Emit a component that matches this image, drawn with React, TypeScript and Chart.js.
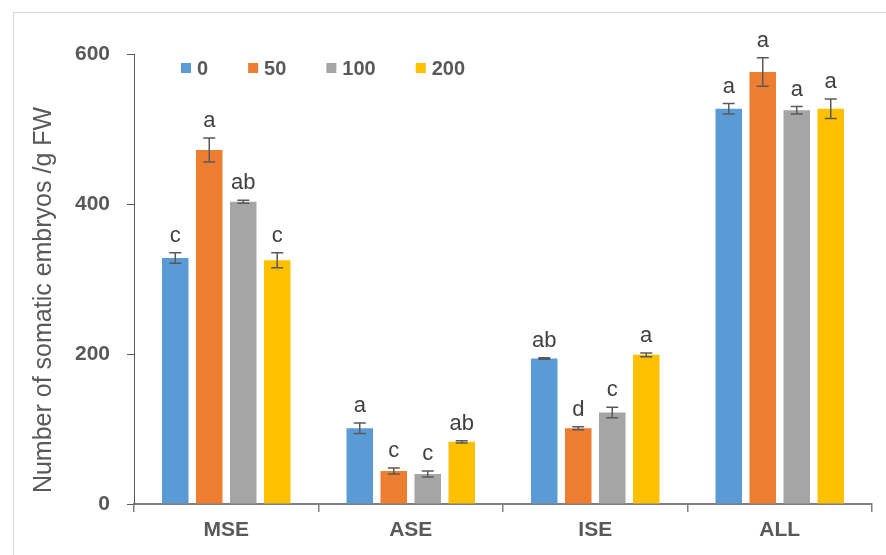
import React, { useEffect, useRef } from "react";
import { Chart, registerables } from "chart.js";

Chart.register(...registerables);

// Embryo type groups and treatment levels
const categories = ["MSE", "ASE", "ISE", "ALL"];
const seriesNames = ["0", "50", "100", "200"];
const seriesColors = ["#5B9BD5", "#ED7D31", "#A5A5A5", "#FFC000"];

// Mean number of somatic embryos per g FW
const values0 = [328, 101, 194, 527];
const values50 = [472, 44, 101, 576];
const values100 = [403, 40, 122, 525];
const values200 = [325, 83, 199, 527];

// Standard errors
const errors0 = [7, 7, 1, 7];
const errors50 = [16, 4, 2, 19];
const errors100 = [2, 4, 7, 5];
const errors200 = [10, 1.5, 2.5, 13];

// Significance letters
const letters0 = ["c", "a", "ab", "a"];
const letters50 = ["a", "c", "d", "a"];
const letters100 = ["ab", "c", "c", "a"];
const letters200 = ["c", "ab", "a", "a"];

const yTicks = [0, 200, 400, 600];
const yTitle = "Number of somatic embryos /g FW";

const FONT = "'Liberation Sans', Arial, sans-serif";
const TEXT = "#595959";

const allValues = [values0, values50, values100, values200];
const allErrors = [errors0, errors50, errors100, errors200];
const allLetters = [letters0, letters50, letters100, letters200];

const errorBarPlugin = {
  id: "errorBars",
  afterDatasetsDraw(chart: any) {
    const { ctx } = chart;
    const yScale = chart.scales.y;
    ctx.save();
    chart.data.datasets.forEach((ds: any, i: number) => {
      const meta = chart.getDatasetMeta(i);
      meta.data.forEach((bar: any, j: number) => {
        const v = allValues[i][j];
        const e = allErrors[i][j];
        const x = bar.x;
        const top = yScale.getPixelForValue(v + e);
        const bot = yScale.getPixelForValue(v - e);
        ctx.strokeStyle = "#595959";
        ctx.lineWidth = 1.5;
        ctx.beginPath();
        ctx.moveTo(x, top);
        ctx.lineTo(x, bot);
        ctx.moveTo(x - 6, top);
        ctx.lineTo(x + 6, top);
        ctx.moveTo(x - 6, bot);
        ctx.lineTo(x + 6, bot);
        ctx.stroke();

        ctx.fillStyle = "#404040";
        ctx.font = `22px ${FONT}`;
        ctx.textAlign = "center";
        ctx.textBaseline = "alphabetic";
        ctx.fillText(allLetters[i][j], x, top - 11);
      });
    });
    ctx.restore();
  },
};

const legendAndTitlePlugin = {
  id: "legendAndTitle",
  afterDraw(chart: any) {
    const { ctx } = chart;
    ctx.save();
    // legend row inside the plot area
    ctx.font = `bold 20px ${FONT}`;
    ctx.textBaseline = "middle";
    ctx.textAlign = "left";
    let x = 181;
    const cy = 68;
    seriesNames.forEach((name, i) => {
      ctx.fillStyle = seriesColors[i];
      ctx.fillRect(x, cy - 5, 10, 10);
      ctx.fillStyle = TEXT;
      ctx.fillText(name, x + 16, cy + 1);
      x += 16 + ctx.measureText(name).width + 40;
    });
    // rotated y-axis title
    ctx.translate(44, 300);
    ctx.rotate(-Math.PI / 2);
    ctx.font = `25px ${FONT}`;
    ctx.fillStyle = TEXT;
    ctx.textAlign = "center";
    ctx.textBaseline = "middle";
    ctx.fillText(yTitle, 0, 0);
    ctx.restore();
  },
};

export default function App() {
  const canvasRef = useRef<HTMLCanvasElement | null>(null);

  useEffect(() => {
    document.body.style.margin = "0";
    const canvas = canvasRef.current;
    if (!canvas) return;
    const chart = new Chart(canvas, {
      type: "bar",
      data: {
        labels: categories,
        datasets: seriesNames.map((name, i) => ({
          label: name,
          data: allValues[i],
          backgroundColor: seriesColors[i],
          borderWidth: 0,
          categoryPercentage: 0.737,
          barPercentage: 0.78,
        })),
      },
      options: {
        responsive: false,
        animation: false,
        devicePixelRatio: 1,
        layout: { padding: { left: 0, top: 54, right: 14, bottom: 0 } },
        plugins: {
          legend: { display: false },
          tooltip: { enabled: false },
        },
        scales: {
          x: {
            grid: {
              drawOnChartArea: false,
              drawTicks: true,
              tickLength: 8,
              color: "#7f7f7f",
              lineWidth: 1.5,
            },
            border: { display: true, color: "#7f7f7f", width: 2 },
            ticks: {
              color: TEXT,
              font: { family: FONT, size: 21, weight: "bold" },
              padding: 6,
            },
            afterFit(scale: any) {
              scale.height = 51;
            },
          },
          y: {
            min: 0,
            max: 600,
            afterBuildTicks(scale: any) {
              scale.ticks = yTicks.map((v) => ({ value: v }));
            },
            grid: {
              drawOnChartArea: false,
              drawTicks: true,
              tickLength: 7,
              color: "#595959",
              lineWidth: 1,
            },
            border: { display: true, color: "#595959", width: 1 },
            ticks: {
              color: TEXT,
              font: { family: FONT, size: 21, weight: "bold" },
              padding: 17,
            },
            afterFit(scale: any) {
              scale.width = 134;
            },
          },
        },
      },
      plugins: [errorBarPlugin, legendAndTitlePlugin],
    });
    return () => chart.destroy();
  }, []);

  return (
    <div style={{ position: "relative", width: 886, height: 555, overflow: "hidden", background: "#fff" }}>
      <div
        style={{
          position: "absolute",
          left: 13,
          top: 12,
          right: 0,
          bottom: 0,
          borderTop: "1px solid #d9d9d9",
          borderLeft: "1px solid #d9d9d9",
        }}
      />
      <canvas
        ref={canvasRef}
        width={886}
        height={555}
        style={{ position: "absolute", left: 0, top: 0, width: 886, height: 555 }}
      />
    </div>
  );
}
